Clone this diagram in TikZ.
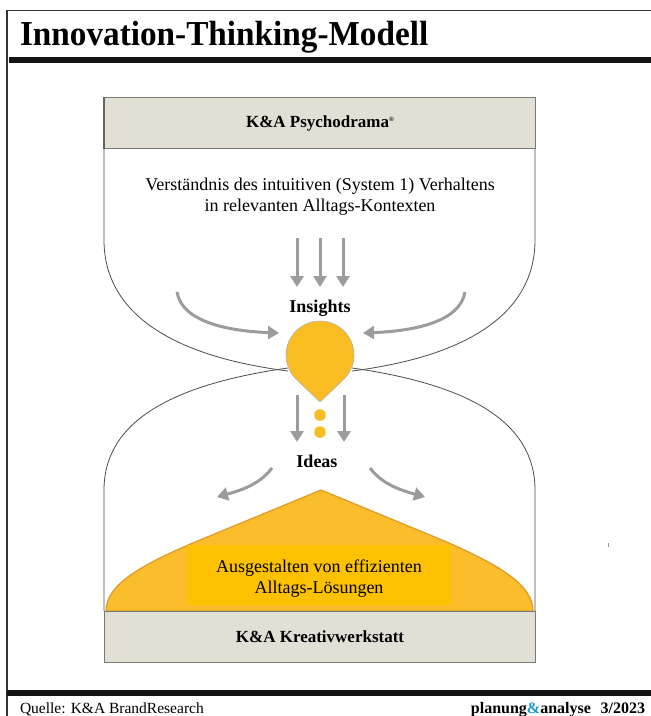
\documentclass[tikz,border=0pt]{standalone}
\usepackage{fontspec}
\setmainfont{Liberation Serif}
\usepackage{graphicx}
\usetikzlibrary{arrows.meta,calc}

\definecolor{boxfill}{HTML}{E2DFD5}
\definecolor{boxedge}{HTML}{7A7A7A}
\definecolor{dropfill}{HTML}{F9BC22}
\definecolor{moundfill}{HTML}{FBBD2B}
\definecolor{moundedge}{HTML}{DE9E2A}
\definecolor{goldbox}{HTML}{FCC100}
\definecolor{arrowgray}{HTML}{9C9C9C}
\definecolor{brandblue}{HTML}{1B9BD7}

\newcommand\ttlfont{\fontsize{35}{35}\selectfont\bfseries}
\newcommand\stagefont{\fontsize{17}{20}\selectfont\bfseries}
\newcommand\bodytxt{\fontsize{18}{21}\selectfont}
\newcommand\keyfont{\fontsize{18}{21}\selectfont\bfseries}
\newcommand\footfont{\fontsize{15.5}{18}\selectfont}

\tikzset{
  bowl/.style={draw=black!70, line width=0.8},
  stagebox/.style={draw=boxedge, fill=boxfill, line width=1, inner sep=0,
    minimum width=431, minimum height=51, font=\stagefont},
  flowarrow/.style={draw=arrowgray, line width=3,
    -{Triangle[width=13pt,length=11pt]}},
  plain/.style={inner sep=0, outer sep=0},
}

\begin{document}
\begin{tikzpicture}[x=1pt,y=-1pt]
\useasboundingbox (0,0) rectangle (651,716);

% page frame and rules
\draw[black!80, line width=1.2] (7,716) -- (7,10.5) -- (651,10.5);
\fill[black!92] (9,57) rectangle (651,63);
\fill[black!92] (7,690) rectangle (651,695.5);

% heading
\node[plain, anchor=base west] (title) at (20,45)
  {\scalebox{0.95}[1]{\ttlfont Innovation-Thinking-Modell}};

% upper bowl
\draw[bowl] (104,148) -- (104,240) .. controls (104,312) and (170,356) .. (288,371);
\draw[bowl] (535,148) -- (535,240) .. controls (535,312) and (470,356) .. (352,371);
% lower bowl
\draw[bowl] (288,368) .. controls (175,384) and (104,420) .. (104,490) -- (104,611);
\draw[bowl] (352,368) .. controls (465,384) and (535,420) .. (535,490) -- (535,611);

% yellow mound
\filldraw[fill=moundfill, draw=moundedge, line width=1.3]
  (106,611) .. controls (106,585) and (140,565) .. (200,540)
  -- (321,490) -- (442,540)
  .. controls (500,565) and (533,585) .. (533,611) -- cycle;

% gold text panel
\node[plain, fill=goldbox, minimum width=264, minimum height=60, anchor=north west]
  (solbox) at (187,545) {};
\node[plain, anchor=base, font=\bodytxt] (sol1) at (319,572) {Ausgestalten von effizienten};
\node[plain, anchor=base, font=\bodytxt] (sol2) at (319,593) {Alltags-Lösungen};

% stage boxes
\node[stagebox, anchor=north west] (psy) at (104,97)
  {K\&A Psychodrama\raisebox{6pt}{\fontsize{6.5}{7}\selectfont ®}};
\node[stagebox, anchor=north west] (werk) at (104,611) {K\&A Kreativwerkstatt};
\draw[boxedge!80!black, line width=1.6] (psy.north west) -- (psy.south west);

% description
\node[plain, anchor=base, font=\bodytxt] (desc1) at (320,190)
  {Verständnis des intuitiven (System 1) Verhaltens};
\node[plain, anchor=base, font=\bodytxt] (desc2) at (320,211)
  {in relevanten Alltags-Kontexten};

% drop
\coordinate (dc) at (320,355);
\filldraw[fill=dropfill, draw=black!30, line width=0.6]
  (320,402) -- ($(dc)+(46.3:34)$) arc[start angle=46.3, end angle=-226.3, radius=34] -- cycle;
\fill[dropfill] (320,415) circle[radius=5.8];
\fill[dropfill] (320,432) circle[radius=5.8];

% labels
\node[plain, anchor=base, font=\keyfont] (insights) at (320,312) {Insights};
\node[plain, anchor=base, font=\keyfont] (ideas) at (317,467) {Ideas};

% arrow end points
\coordinate (u1s) at (297,238); \coordinate (u1e) at (297,287);
\coordinate (u2s) at (320,238); \coordinate (u2e) at (320,287);
\coordinate (u3s) at (343,238); \coordinate (u3e) at (343,287);
\coordinate (ls) at (177,292);  \coordinate (le) at (279,333);
\coordinate (rs) at (465,292);  \coordinate (re) at (363,333);
\coordinate (d1s) at (297,395); \coordinate (d1e) at (297,442);
\coordinate (d2s) at (344,395); \coordinate (d2e) at (344,442);
\coordinate (ols) at (272,468); \coordinate (ole) at (217,497);
\coordinate (ors) at (370,468); \coordinate (ore) at (425,497);

% arrows
\draw[flowarrow] (u1s) -- (u1e);
\draw[flowarrow] (u2s) -- (u2e);
\draw[flowarrow] (u3s) -- (u3e);
\draw[flowarrow] (ls) .. controls (182,322) and (228,331) .. (le);
\draw[flowarrow] (rs) .. controls (460,322) and (414,331) .. (re);
\draw[flowarrow] (d1s) -- (d1e);
\draw[flowarrow] (d2s) -- (d2e);
\draw[flowarrow] (ols) .. controls (260,484) and (242,490) .. (ole);
\draw[flowarrow] (ors) .. controls (382,484) and (400,490) .. (ore);

% small mark at the right margin
\draw[black!40, line width=0.6] (608,543) -- (608,547);

% footer
\node[plain, anchor=base west, font=\footfont] (src) at (20,713) {Quelle: K\&A BrandResearch};
\node[plain, anchor=base east, font=\fontsize{16}{18}\selectfont\bfseries] (pub) at (645,713)
  {planung{\color{brandblue}\&}analyse\hspace{0.6em}3/2023};

\end{tikzpicture}
\end{document}
